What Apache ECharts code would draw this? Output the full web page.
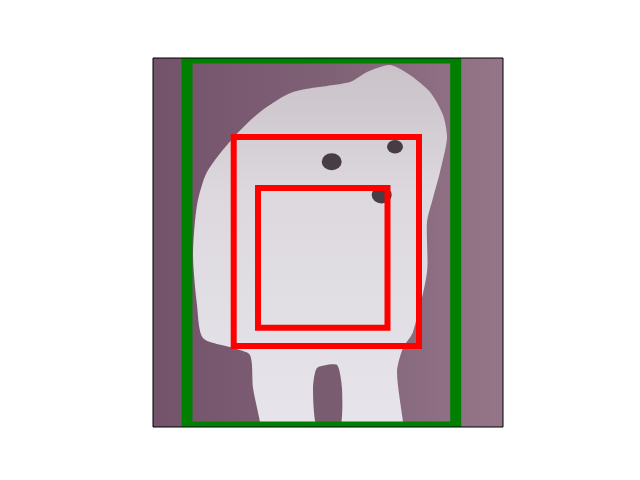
<!DOCTYPE html>
<html>
<head>
<meta charset="utf-8">
<script src="https://cdn.jsdelivr.net/npm/echarts@6/dist/echarts.min.js"></script>
<style>html,body{margin:0;padding:0;background:#fff}#c{width:640px;height:480px}</style>
</head>
<body>
<div id="c"></div>
<script>
// image extent in image pixel units
const imageWidth = 350;
const imageHeight = 369;

// bounding boxes [x0, y0, x1, y1]
const boxNames = ['outer', 'middle', 'inner'];
const boxX0 = [34, 80.7, 105];
const boxY0 = [0, 79, 130];
const boxX1 = [302.7, 266, 234.5];
const boxY1 = [369, 288, 269.7];

// approximate silhouette of the photographed dog
const dogOutline = [
  [197,24],[214,14],[237,7],[257,17],[277,34],[290,57],[294,80],[287,114],
  [280,140],[274,164],[274,214],[260,274],[250,290],[244,314],[250,364],
  [250,369],[107,369],[107,364],[100,330],[97,297],[80,290],[50,280],
  [44,247],[40,197],[44,147],[54,114],[80,80],[107,54],[140,34]
];
const legGap = [[164,310],[184,307],[189,330],[187,369],[164,369],[160,330]];
// eyes and nose: [x, y, radius]
const features = [[178.7,103.7,10],[242,88.7,8],[228.7,137,10]];

const chart = echarts.init(document.getElementById('c'), null, {renderer: 'canvas'});

function polyRender(points, style, smooth) {
  return function (params, api) {
    return {
      type: 'polygon',
      shape: { points: points.map(p => api.coord(p)), smooth: smooth || 0 },
      style: style
    };
  };
}

const option = {
  animation: false,
  backgroundColor: '#ffffff',
  grid: { left: 153, top: 58, width: 350, height: 369, show: false },
  xAxis: { type: 'value', min: 0, max: imageWidth, show: false },
  yAxis: { type: 'value', min: 0, max: imageHeight, inverse: true, show: false },
  series: [
    {
      type: 'custom', z: 1, clip: true, silent: true,
      data: [[0, 0, imageWidth, imageHeight]],
      renderItem: function (params, api) {
        const a = api.coord([api.value(0), api.value(1)]);
        const b = api.coord([api.value(2), api.value(3)]);
        return {
          type: 'rect',
          shape: { x: a[0], y: a[1], width: b[0] - a[0], height: b[1] - a[1] },
          style: {
            fill: new echarts.graphic.LinearGradient(0, 0, 1, 0, [
              { offset: 0, color: '#73536a' },
              { offset: 0.5, color: '#7f6176' },
              { offset: 1, color: '#957689' }
            ])
          }
        };
      }
    },
    {
      type: 'custom', z: 2, clip: true, silent: true,
      data: [0],
      renderItem: polyRender(dogOutline, {
        fill: new echarts.graphic.LinearGradient(0, 0, 0, 1, [
          { offset: 0, color: '#c9c2c8' },
          { offset: 0.35, color: '#dcd8de' },
          { offset: 1, color: '#e7e4eb' }
        ])
      }, 0.25)
    },
    {
      type: 'custom', z: 3, clip: true, silent: true,
      data: [0],
      renderItem: polyRender(legGap, { fill: '#7a5c70' }, 0.2)
    },
    {
      type: 'custom', z: 4, clip: true, silent: true,
      data: features,
      renderItem: function (params, api) {
        const c = api.coord([api.value(0), api.value(1)]);
        const r = api.size([api.value(2), 0])[0];
        return { type: 'circle', shape: { cx: c[0], cy: c[1], r: r }, scaleY: 0.85, originX: c[0], originY: c[1], style: { fill: '#2e2228', opacity: 0.85 } };
      }
    },
    {
      type: 'custom', z: 10, clip: true, silent: true,
      data: boxNames.map((n, i) => [boxX0[i], boxY0[i], boxX1[i], boxY1[i], i]),
      renderItem: function (params, api) {
        const a = api.coord([api.value(0), api.value(1)]);
        const b = api.coord([api.value(2), api.value(3)]);
        const i = api.value(4);
        return {
          type: 'rect',
          shape: { x: a[0], y: a[1], width: b[0] - a[0], height: b[1] - a[1] },
          style: { fill: 'none', stroke: i === 0 ? '#008000' : '#ff0000', lineWidth: i === 0 ? 11 : 6 }
        };
      }
    },
    {
      type: 'custom', z: 20, clip: false, silent: true,
      data: [[0, 0, imageWidth, imageHeight]],
      renderItem: function (params, api) {
        const a = api.coord([api.value(0), api.value(1)]);
        const b = api.coord([api.value(2), api.value(3)]);
        return {
          type: 'rect',
          shape: { x: a[0], y: a[1], width: b[0] - a[0], height: b[1] - a[1] },
          style: { fill: 'none', stroke: '#000', lineWidth: 1 }
        };
      }
    }
  ]
};
chart.setOption(option);
</script>
</body>
</html>
